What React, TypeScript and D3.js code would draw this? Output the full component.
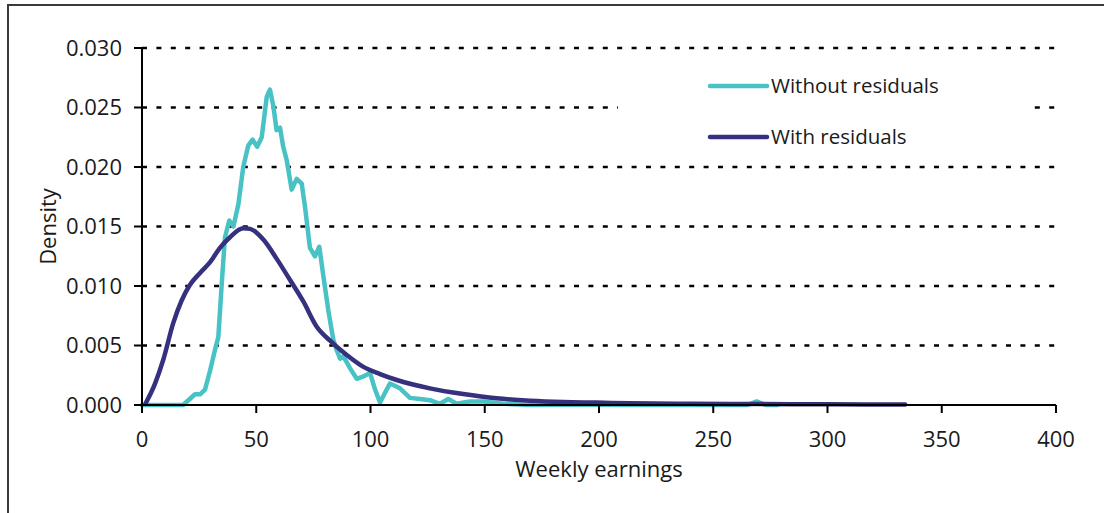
import { useEffect, useRef } from 'react';
import * as d3 from 'd3';

// Weekly earnings density, with and without residuals

const WIDTH = 1104;
const HEIGHT = 513;
const PLOT = { left: 142, right: 1056, top: 48, bottom: 405 } as const;
const FONT = "'Open Sans', 'DejaVu Sans', sans-serif";

const X_TICKS = [0, 50, 100, 150, 200, 250, 300, 350, 400];
const Y_TICKS = [0, 0.005, 0.01, 0.015, 0.02, 0.025, 0.03];
const GRID_TICKS = [0.005, 0.01, 0.015, 0.02, 0.025, 0.03];

const SERIES_LABELS = ['Without residuals', 'With residuals'];
const SERIES_COLORS = ['#48c2c5', '#35317f'];

// "Without residuals" (jagged)
const withoutResX = [
  0, 10, 18, 20.3, 23.2, 25.4, 27.6, 29.8, 31.9, 33.4, 34.9, 36.3, 38.2, 40, 42.2, 44.3,
  46.5, 48.4, 50.4, 52.4, 54.6, 56, 57.5, 58.9, 60.4, 61.8, 63.3, 65.5, 67.7, 69.9, 71.3,
  73.5, 75.7, 77.6, 79.4, 81.5, 83.7, 85.2, 86.7, 88.1, 91, 94, 96.9, 99.8, 102, 104.2, 106,
  108.5, 112.9, 117.3, 121.7, 126, 130.4, 134, 137.7, 143.5, 149.4, 158.1, 170, 200, 210,
  265, 269, 273, 278,
];
const withoutResY = [
  0, 0, 0, 0.0004, 0.0009, 0.0009, 0.0013, 0.0029, 0.0046, 0.0057, 0.0102, 0.0141, 0.0155,
  0.015, 0.0169, 0.02, 0.0218, 0.0223, 0.0217, 0.0225, 0.0259, 0.0265, 0.0251, 0.0231,
  0.0233, 0.0217, 0.0206, 0.0181, 0.019, 0.0186, 0.0167, 0.0132, 0.0125, 0.0133, 0.0108,
  0.008, 0.0055, 0.0046, 0.0039, 0.0041, 0.0031, 0.0022, 0.0024, 0.0027, 0.0013, 0.0002,
  0.0009, 0.0018, 0.0014, 0.0006, 0.0005, 0.0004, 0.0001, 0.0005, 0.0001, 0.0003, 0.0003,
  0.0001, 0, 0.00005, 0, 0, 0.0003, 0, 0,
];

// "With residuals" (smooth)
const withResX = [
  1.5, 5.7, 9.3, 13.7, 17.4, 21, 25.4, 29.8, 34.1, 38.5, 44.3, 47.3, 53.1, 58.9, 64.8, 70.6,
  76.4, 82.3, 89.6, 96.9, 104.2, 111.5, 126, 140.6, 155.2, 169.8, 184.4, 199, 213.6, 240,
  270, 300, 334,
];
const withResY = [
  0.0001, 0.0018, 0.0038, 0.0069, 0.0088, 0.0101, 0.0111, 0.012, 0.0132, 0.0141, 0.01485,
  0.0148, 0.0139, 0.0123, 0.0105, 0.0087, 0.0066, 0.0054, 0.0042, 0.0032, 0.0026, 0.0021,
  0.0014, 0.00092, 0.00056, 0.00036, 0.00025, 0.0002, 0.00014, 0.0001, 0.00008, 0.00006,
  0.00004,
];

type Pt = { x: number; y: number };

export default function App() {
  const svgRef = useRef<SVGSVGElement | null>(null);

  useEffect(() => {
    const svgEl = svgRef.current;
    if (!svgEl) return;
    const svg = d3.select(svgEl);
    svg.selectAll('*').remove();

    const xScale = d3.scaleLinear().domain([0, 400]).range([PLOT.left, PLOT.right]);
    const yScale = d3.scaleLinear().domain([0, 0.03]).range([PLOT.bottom, PLOT.top]);

    // outer frame
    svg
      .append('rect')
      .attr('x', 8)
      .attr('y', 5)
      .attr('width', WIDTH + 20)
      .attr('height', HEIGHT + 20)
      .attr('fill', '#ffffff')
      .attr('stroke', '#3a3a3a')
      .attr('stroke-width', 2);

    // ---- dotted grid ----
    svg
      .append('g')
      .selectAll('line')
      .data(GRID_TICKS)
      .join('line')
      .attr('x1', PLOT.left)
      .attr('x2', PLOT.right)
      .attr('y1', (d) => yScale(d))
      .attr('y2', (d) => yScale(d))
      .attr('stroke', '#000000')
      .attr('stroke-width', 2.5)
      .attr('stroke-dasharray', '5 9.4');

    // legend box hides part of the grid
    svg
      .append('rect')
      .attr('x', 618)
      .attr('y', 58)
      .attr('width', 414)
      .attr('height', 100)
      .attr('fill', '#ffffff');

    // ---- lines ----
    const toPoints = (xs: number[], ys: number[]): Pt[] => xs.map((x, i) => ({ x, y: ys[i] }));

    const jagged = d3
      .line<Pt>()
      .x((p) => xScale(p.x))
      .y((p) => yScale(p.y))
      .curve(d3.curveLinear);
    const smooth = d3
      .line<Pt>()
      .x((p) => xScale(p.x))
      .y((p) => yScale(p.y))
      .curve(d3.curveMonotoneX);

    svg
      .append('path')
      .datum(toPoints(withoutResX, withoutResY))
      .attr('fill', 'none')
      .attr('stroke', SERIES_COLORS[0])
      .attr('stroke-width', 4.5)
      .attr('stroke-linejoin', 'round')
      .attr('stroke-linecap', 'round')
      .attr('d', jagged);

    svg
      .append('path')
      .datum(toPoints(withResX, withResY))
      .attr('fill', 'none')
      .attr('stroke', SERIES_COLORS[1])
      .attr('stroke-width', 4.5)
      .attr('stroke-linejoin', 'round')
      .attr('stroke-linecap', 'round')
      .attr('d', smooth);

    // ---- axes ----
    const axes = svg.append('g');
    axes
      .append('line')
      .attr('x1', PLOT.left)
      .attr('x2', PLOT.left)
      .attr('y1', PLOT.top)
      .attr('y2', PLOT.bottom)
      .attr('stroke', '#000')
      .attr('stroke-width', 2);
    axes
      .append('line')
      .attr('x1', PLOT.left)
      .attr('x2', PLOT.right)
      .attr('y1', PLOT.bottom)
      .attr('y2', PLOT.bottom)
      .attr('stroke', '#000')
      .attr('stroke-width', 2);

    axes
      .selectAll('g.ytick')
      .data(Y_TICKS)
      .join('g')
      .attr('class', 'ytick')
      .attr('transform', (d) => `translate(${PLOT.left}, ${yScale(d)})`)
      .each(function (d) {
        const g = d3.select(this);
        g.append('line').attr('x1', -8).attr('x2', 0).attr('stroke', '#000').attr('stroke-width', 2);
        g.append('text')
          .attr('x', -20)
          .attr('dy', '0.35em')
          .attr('text-anchor', 'end')
          .attr('font-family', FONT)
          .attr('font-size', 22)
          .attr('fill', '#1a1a1a')
          .text(d3.format('.3f')(d));
      });

    axes
      .selectAll('g.xtick')
      .data(X_TICKS)
      .join('g')
      .attr('class', 'xtick')
      .attr('transform', (d) => `translate(${xScale(d)}, ${PLOT.bottom})`)
      .each(function (d) {
        const g = d3.select(this);
        g.append('line').attr('y1', 0).attr('y2', 8).attr('stroke', '#000').attr('stroke-width', 2);
        g.append('text')
          .attr('y', 42)
          .attr('text-anchor', 'middle')
          .attr('font-family', FONT)
          .attr('font-size', 22)
          .attr('fill', '#1a1a1a')
          .text(String(d));
      });

    svg
      .append('text')
      .attr('x', (PLOT.left + PLOT.right) / 2)
      .attr('y', 477)
      .attr('text-anchor', 'middle')
      .attr('font-family', FONT)
      .attr('font-size', 22)
      .attr('fill', '#1a1a1a')
      .text('Weekly earnings');

    svg
      .append('text')
      .attr('transform', `translate(56, ${(PLOT.top + PLOT.bottom) / 2}) rotate(-90)`)
      .attr('text-anchor', 'middle')
      .attr('font-family', FONT)
      .attr('font-size', 22)
      .attr('fill', '#1a1a1a')
      .text('Density');

    // ---- legend ----
    const legendY = [86, 137];
    SERIES_LABELS.forEach((label, i) => {
      const g = svg.append('g').attr('transform', `translate(710, ${legendY[i]})`);
      g.append('line')
        .attr('x1', 0)
        .attr('x2', 57)
        .attr('stroke', SERIES_COLORS[i])
        .attr('stroke-width', 4.5)
        .attr('stroke-linecap', 'round');
      g.append('text')
        .attr('x', 61)
        .attr('dy', '0.35em')
        .attr('font-family', FONT)
        .attr('font-size', 20.5)
        .attr('fill', '#1a1a1a')
        .text(label);
    });
  }, []);

  return (
    <svg
      ref={svgRef}
      width={WIDTH}
      height={HEIGHT}
      viewBox={`0 0 ${WIDTH} ${HEIGHT}`}
      style={{ position: 'absolute', left: 0, top: 0, display: 'block' }}
      role="img"
      aria-label="Density of weekly earnings with and without residuals"
    />
  );
}
